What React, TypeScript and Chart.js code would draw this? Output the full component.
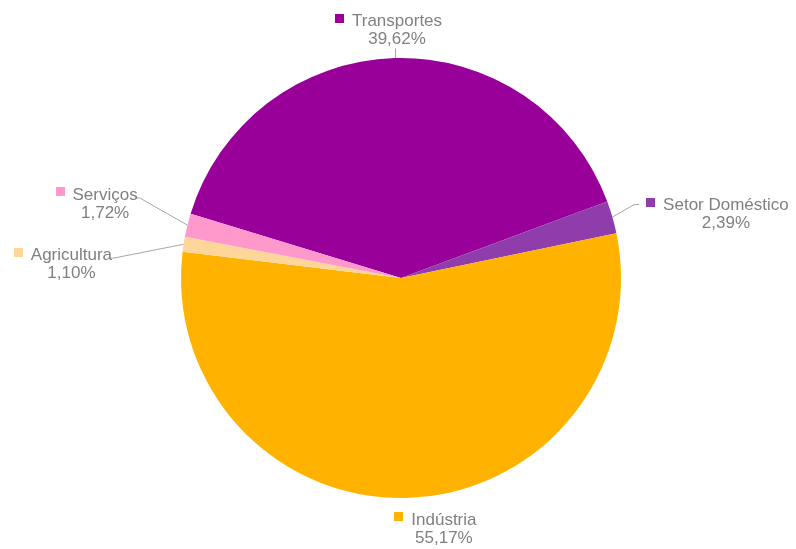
import React, { useEffect, useRef } from "react";
import { Chart, registerables } from "chart.js";

Chart.register(...registerables);

const categories = ["Transportes", "Setor Doméstico", "Indústria", "Agricultura", "Serviços"];
const values = [39.62, 2.39, 55.17, 1.1, 1.72];
const colors = ["#990099", "#8E3DAB", "#FFB300", "#FFD699", "#FF99CC"];

// label placement relative to pie centre, in units of radius (style only)
const labelOffsets = [
  { dx: -0.018, dy: -1.13, leader: "top" },
  { dx: 1.477, dy: -0.295, leader: "left" },
  { dx: 0.195, dy: 1.136, leader: "none" },
  { dx: -1.498, dy: -0.068, leader: "right" },
  { dx: -1.345, dy: -0.341, leader: "right" },
];

const FONT = '17px "Liberation Sans", Arial, sans-serif';
const TEXT_COLOR = "#808080";
const LINE_COLOR = "#A6A6A6";

const fmt = (v: number) => v.toFixed(2).replace(".", ",") + "%";

const labelPlugin = {
  id: "outLabels",
  afterDraw(chart: any) {
    const ctx = chart.ctx;
    const meta = chart.getDatasetMeta(0);
    ctx.save();
    ctx.font = FONT;
    meta.data.forEach((arc: any, i: number) => {
      const { x, y, outerRadius, startAngle, endAngle } = arc.getProps(
        ["x", "y", "outerRadius", "startAngle", "endAngle"],
        true
      );
      const mid = (startAngle + endAngle) / 2;
      const ax = x + Math.cos(mid) * outerRadius;
      const ay = y + Math.sin(mid) * outerRadius;
      const off = labelOffsets[i];
      const cx = x + off.dx * outerRadius;
      const cy = y + off.dy * outerRadius;
      const b1 = cy - 3;
      const b2 = cy + 15;
      const name = categories[i];
      const pct = fmt(values[i]);
      const w1 = ctx.measureText(name).width;
      const w2 = ctx.measureText(pct).width;
      const textLeft = cx - w1 / 2;
      const textRight = cx + w1 / 2;
      const mSize = 9;
      const mLeft = textLeft - 8 - mSize;
      const mTop = b1 - 8 - mSize / 2;

      // leader line
      ctx.strokeStyle = LINE_COLOR;
      ctx.lineWidth = 1;
      ctx.beginPath();
      if (off.leader === "top") {
        ctx.moveTo(Math.round(ax) + 0.5, ay);
        ctx.lineTo(Math.round(ax) + 0.5, b2 + 4);
        ctx.stroke();
      } else if (off.leader === "left") {
        const ey = b1 - 6 + 0.5;
        ctx.moveTo(ax, ay);
        ctx.lineTo(mLeft - 12, ey);
        ctx.lineTo(mLeft - 7, ey);
        ctx.stroke();
      } else if (off.leader === "right") {
        ctx.moveTo(ax, ay);
        ctx.lineTo(textRight + 2, b1 - 2);
        ctx.lineTo(textRight - 3, b1 - 2);
        ctx.stroke();
      }

      // marker
      ctx.fillStyle = colors[i];
      ctx.fillRect(Math.round(mLeft), Math.round(mTop), mSize, mSize);

      // text
      ctx.fillStyle = TEXT_COLOR;
      ctx.textAlign = "center";
      ctx.textBaseline = "alphabetic";
      ctx.fillText(name, cx, b1);
      ctx.fillText(pct, cx, b2);
      void w2;
    });
    ctx.restore();
  },
};

export default function App() {
  const ref = useRef<HTMLCanvasElement | null>(null);
  useEffect(() => {
    if (!ref.current) return;
    const chart = new Chart(ref.current, {
      type: "pie",
      data: {
        labels: categories,
        datasets: [
          {
            data: values,
            backgroundColor: colors,
            borderWidth: 0,
          },
        ],
      },
      options: {
        responsive: false,
        animation: false,
        rotation: -73,
        layout: { padding: { top: 58, bottom: 51, left: 181, right: 175 } },
        plugins: {
          legend: { display: false },
          tooltip: { enabled: false },
        },
      },
      plugins: [labelPlugin],
    } as any);
    return () => chart.destroy();
  }, []);
  return (
    <div style={{ position: "absolute", left: 0, top: 0, width: 796, height: 549, background: "#fff" }}>
      <canvas ref={ref} width={796} height={549} style={{ display: "block" }} />
    </div>
  );
}
